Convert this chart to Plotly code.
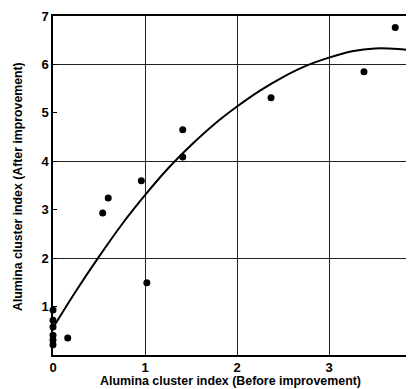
import plotly.graph_objects as go

# Scatter data (Before improvement, After improvement)
before = [0.0, 0.0, 0.0, 0.0, 0.0, 0.0, 0.16, 0.54, 0.60, 0.96, 1.02, 1.41, 1.41, 2.37, 3.38, 3.72]
after = [0.93, 0.72, 0.58, 0.41, 0.31, 0.21, 0.35, 2.93, 3.24, 3.60, 1.49, 4.65, 4.09, 5.31, 5.85, 6.76]

# Fitted curve
curve_x = [0.0, 0.25, 0.5, 0.75, 1.0, 1.25, 1.5, 1.75, 2.0, 2.25, 2.5, 2.75, 3.0, 3.25, 3.5, 3.75, 3.86]
curve_y = [0.56, 1.32, 2.03, 2.70, 3.30, 3.85, 4.33, 4.76, 5.13, 5.46, 5.74, 5.97, 6.14, 6.27, 6.33, 6.32, 6.30]

x_ticks = [0, 1, 2, 3]
y_ticks = [1, 2, 3, 4, 5, 6, 7]
y_grid = [2, 4, 6]

FONT = "Liberation Sans"
OFF = 8  # default page body margin
WIN_W, WIN_H = 414, 389
# plot area in window pixels
PL, PT, PR, PB = 53, 16, 414, 355
W, H = WIN_W - OFF, WIN_H - OFF
L, T = PL - OFF, PT - OFF
R = W - (PR - OFF)
B = H - (PB - OFF)
pw, ph = PR - PL, PB - PT
x_per_unit = 92.0
x_max = pw / x_per_unit


def px(wx):
    return (wx - PL) / pw


def py(wy):
    return (PB - wy) / ph


fig = go.Figure()
fig.add_trace(go.Scatter(x=curve_x, y=curve_y, mode="lines", line=dict(color="black", width=2, shape="spline"),
                         showlegend=False, hoverinfo="skip"))
fig.add_trace(go.Scatter(x=before, y=after, mode="markers", marker=dict(color="black", size=7),
                         showlegend=False, cliponaxis=False))
fig.add_trace(go.Scatter(x=[None], y=[None], yaxis="y2", showlegend=False, hoverinfo="skip"))

fig.update_layout(
    width=W, height=H,
    margin=dict(l=L, r=R, t=T, b=B),
    paper_bgcolor="white", plot_bgcolor="white",
    font=dict(family=FONT, size=12, color="black"),
    xaxis=dict(range=[0, x_max], tickvals=x_ticks, showgrid=True, gridcolor="#222", gridwidth=1,
               zeroline=False, showline=True, linecolor="black", linewidth=1.5, mirror=True,
               ticks="", tickfont=dict(size=13, family=FONT, weight="bold")),
    yaxis=dict(range=[0, 7], tickvals=y_ticks, showgrid=False, zeroline=False, showline=True,
               linecolor="black", linewidth=1.5, ticks="inside", ticklen=4, tickcolor="black",
               tickfont=dict(size=13, family=FONT, weight="bold")),
    yaxis2=dict(range=[0, 7], overlaying="y", tickvals=y_grid, showgrid=True, gridcolor="#222",
                gridwidth=1, showticklabels=False, ticks="", zeroline=False, showline=False),
    annotations=[
        dict(text="Alumina cluster index (Before improvement)", xref="paper", yref="paper",
             x=px(230), y=py(381), xanchor="center", yanchor="middle",
             showarrow=False, font=dict(size=12.4, family=FONT, weight="bold")),
        dict(text="Alumina cluster index (After improvement)", xref="paper", yref="paper",
             x=px(18), y=py(187), xanchor="center", yanchor="middle", textangle=-90,
             showarrow=False, font=dict(size=12.3, family=FONT, weight="bold")),
        dict(text="4", xref="paper", yref="paper", x=px(PL + 4 * x_per_unit), y=py(366),
             xanchor="center", yanchor="middle", showarrow=False, font=dict(size=13, family=FONT, weight="bold")),
    ],
)

fig.write_html("out.html")
